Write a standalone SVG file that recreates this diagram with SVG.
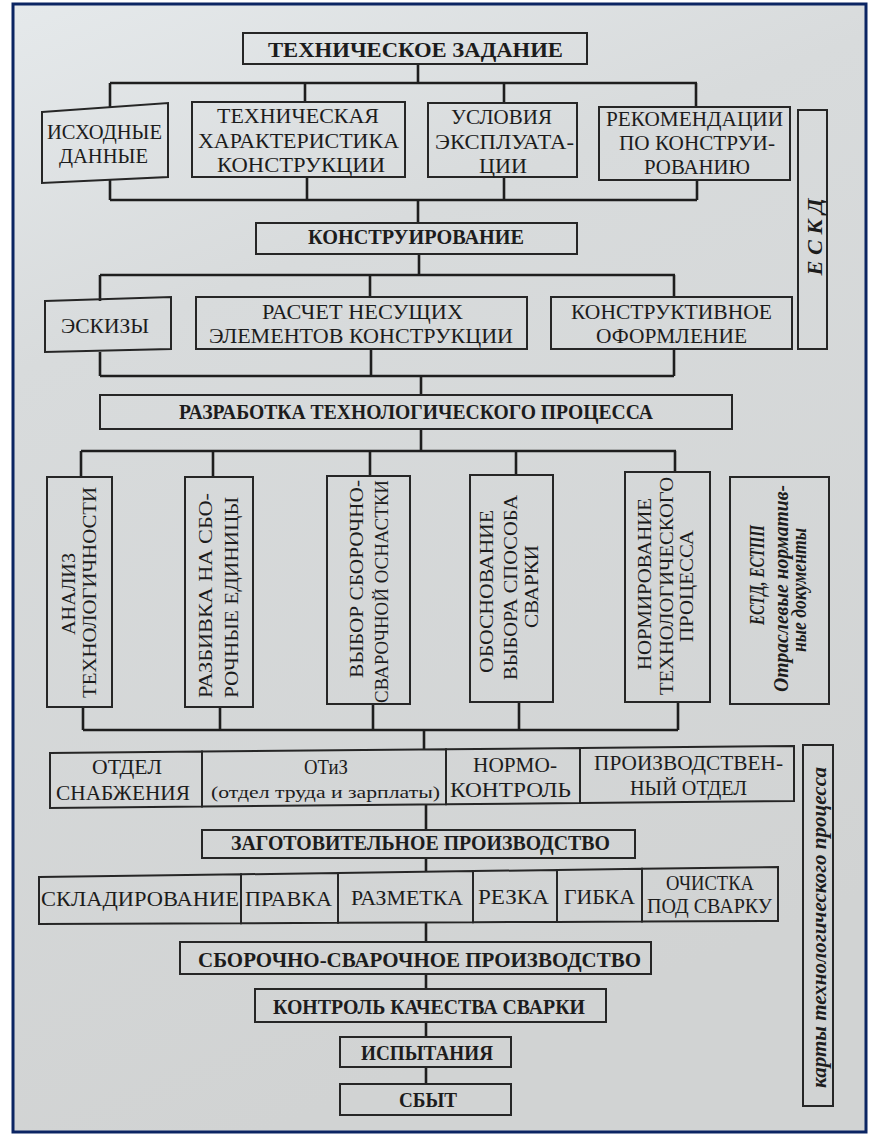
<svg xmlns="http://www.w3.org/2000/svg" width="874" height="1136" viewBox="0 0 874 1136">
<defs>
<linearGradient id="paper" x1="0" y1="0" x2="0.3" y2="1">
<stop offset="0" stop-color="#e5e9eb"/>
<stop offset="0.3" stop-color="#d8dbdc"/>
<stop offset="1" stop-color="#d1d3d3"/>
</linearGradient>
<style>
.box{fill:none;stroke:#262626;stroke-width:2}
.ln{fill:none;stroke:#1e1e1e;stroke-width:2.6}
.t{font-family:"Liberation Serif","Times New Roman",serif;font-size:21px;fill:#1c1c1c;text-anchor:middle}
.b{font-weight:bold}
.s{font-size:17px}
.v{font-size:19px}
.h{font-size:20px}
.i{font-style:italic;font-weight:bold}
</style>
</defs>
<rect x="0" y="0" width="874" height="1136" fill="#ffffff"/>
<rect x="13" y="4" width="853" height="1128" fill="url(#paper)" stroke="#0b2563" stroke-width="3"/>

<g id="connectors">
<path class="ln" d="M418 64V83M110 83H697M110 83V107M305 83V102M504 83V103M696 83V107"/>
<path class="ln" d="M110 180V200M307 177V200M504 177V200M697 180V200M110 200H697M418 200V223"/>
<path class="ln" d="M419 254V275M100 275H675M100 275V301M370 275V297M674 275V297"/>
<path class="ln" d="M100 352V376M371 349V376M674 349V376M100 376H674M421 376V395"/>
<path class="ln" d="M421 429V451M81 451H676M81 451V477M213 451V477M370 451V476M516 451V475M675 451V472"/>
<path class="ln" d="M83 707V730M220 707V730M373 704V730M519 702V730M678 702V730M83 730H678M424 730V750"/>
<path class="ln" d="M426 804V830M426 858V872M426 923V942M426 974V989M426 1022V1037M426 1067V1084"/>
</g>

<g id="n-tz"><rect class="box" x="243" y="33" width="344" height="31"/>
<text class="t b" x="415.5" y="57" textLength="295" lengthAdjust="spacingAndGlyphs">ТЕХНИЧЕСКОЕ ЗАДАНИЕ</text></g>

<g id="n-ishod"><polygon class="box" points="42,112 168,103 168,177 42,183"/>
<text class="t h" x="104.5" y="139" textLength="115" lengthAdjust="spacingAndGlyphs">ИСХОДНЫЕ</text>
<text class="t h" x="103.5" y="163" textLength="89" lengthAdjust="spacingAndGlyphs">ДАННЫЕ</text></g>

<g id="n-harakt"><rect class="box" x="192" y="102" width="213" height="75"/>
<text class="t" x="298" y="123" textLength="162" lengthAdjust="spacingAndGlyphs">ТЕХНИЧЕСКАЯ</text>
<text class="t" x="298.5" y="148" textLength="201" lengthAdjust="spacingAndGlyphs">ХАРАКТЕРИСТИКА</text>
<text class="t" x="301" y="172" textLength="168" lengthAdjust="spacingAndGlyphs">КОНСТРУКЦИИ</text></g>

<g id="n-uslov"><rect class="box" x="428" y="103" width="149" height="74"/>
<text class="t" x="501.5" y="124" textLength="101" lengthAdjust="spacingAndGlyphs">УСЛОВИЯ</text>
<text class="t" x="504.5" y="149" textLength="139" lengthAdjust="spacingAndGlyphs">ЭКСПЛУАТА-</text>
<text class="t" x="503" y="173" textLength="48" lengthAdjust="spacingAndGlyphs">ЦИИ</text></g>

<g id="n-rekom"><rect class="box" x="599" y="107" width="191" height="73"/>
<text class="t" x="694.5" y="126" textLength="177" lengthAdjust="spacingAndGlyphs">РЕКОМЕНДАЦИИ</text>
<text class="t" x="697" y="150" textLength="156" lengthAdjust="spacingAndGlyphs">ПО КОНСТРУИ-</text>
<text class="t" x="697" y="174" textLength="106" lengthAdjust="spacingAndGlyphs">РОВАНИЮ</text></g>

<g id="n-eskd"><rect class="box" x="798" y="110" width="29" height="239"/>
<text class="t i" transform="translate(822 237) rotate(-90)" font-size="21" textLength="77" lengthAdjust="spacingAndGlyphs">Е С К Д</text></g>

<g id="n-konstr"><rect class="box" x="256" y="223" width="321" height="31"/>
<text class="t b" x="416" y="244" textLength="216" lengthAdjust="spacingAndGlyphs">КОНСТРУИРОВАНИЕ</text></g>

<g id="n-eskiz"><polygon class="box" points="45,301 171,297 171,349 45,352"/>
<text class="t" x="105" y="333" textLength="88" lengthAdjust="spacingAndGlyphs">ЭСКИЗЫ</text></g>

<g id="n-raschet"><rect class="box" x="196" y="297" width="331" height="52"/>
<text class="t" x="362.5" y="319" textLength="201" lengthAdjust="spacingAndGlyphs">РАСЧЕТ НЕСУЩИХ</text>
<text class="t" x="361" y="343" textLength="304" lengthAdjust="spacingAndGlyphs">ЭЛЕМЕНТОВ КОНСТРУКЦИИ</text></g>

<g id="n-oform"><rect class="box" x="551" y="297" width="241" height="52"/>
<text class="t" x="671.5" y="319" textLength="201" lengthAdjust="spacingAndGlyphs">КОНСТРУКТИВНОЕ</text>
<text class="t" x="671.5" y="343" textLength="151" lengthAdjust="spacingAndGlyphs">ОФОРМЛЕНИЕ</text></g>

<g id="n-razrab"><rect class="box" x="100" y="395" width="632" height="34"/>
<text class="t b h" x="416" y="419" textLength="474" lengthAdjust="spacingAndGlyphs">РАЗРАБОТКА ТЕХНОЛОГИЧЕСКОГО ПРОЦЕССА</text></g>

<g id="n-analiz"><rect class="box" x="47" y="477" width="65" height="230"/>
<text class="t v" transform="translate(75 594) rotate(-90)" textLength="82" lengthAdjust="spacingAndGlyphs">АНАЛИЗ</text>
<text class="t v" transform="translate(96 592.5) rotate(-90)" textLength="211" lengthAdjust="spacingAndGlyphs">ТЕХНОЛОГИЧНОСТИ</text></g>

<g id="n-razbivka"><rect class="box" x="185" y="477" width="68" height="230"/>
<text class="t v" transform="translate(212 595.5) rotate(-90)" textLength="205" lengthAdjust="spacingAndGlyphs">РАЗБИВКА НА СБО-</text>
<text class="t v" transform="translate(238 597.5) rotate(-90)" textLength="201" lengthAdjust="spacingAndGlyphs">РОЧНЫЕ ЕДИНИЦЫ</text></g>

<g id="n-vybor"><rect class="box" x="327" y="476" width="83" height="228"/>
<text class="t v" transform="translate(363 579) rotate(-90)" textLength="198" lengthAdjust="spacingAndGlyphs">ВЫБОР СБОРОЧНО-</text>
<text class="t v" transform="translate(388 591.5) rotate(-90)" textLength="223" lengthAdjust="spacingAndGlyphs">СВАРОЧНОЙ ОСНАСТКИ</text></g>

<g id="n-obosn"><rect class="box" x="470" y="475" width="83" height="227"/>
<text class="t v" transform="translate(493 591.5) rotate(-90)" textLength="163" lengthAdjust="spacingAndGlyphs">ОБОСНОВАНИЕ</text>
<text class="t v" transform="translate(517 587.5) rotate(-90)" textLength="185" lengthAdjust="spacingAndGlyphs">ВЫБОРА СПОСОБА</text>
<text class="t v" transform="translate(538 586.5) rotate(-90)" textLength="83" lengthAdjust="spacingAndGlyphs">СВАРКИ</text></g>

<g id="n-normir"><rect class="box" x="625" y="472" width="85" height="230"/>
<text class="t v" transform="translate(651 584) rotate(-90)" textLength="172" lengthAdjust="spacingAndGlyphs">НОРМИРОВАНИЕ</text>
<text class="t v" transform="translate(673 586) rotate(-90)" textLength="218" lengthAdjust="spacingAndGlyphs">ТЕХНОЛОГИЧЕСКОГО</text>
<text class="t v" transform="translate(693 586) rotate(-90)" textLength="112" lengthAdjust="spacingAndGlyphs">ПРОЦЕССА</text></g>

<g id="n-estd"><rect class="box" x="730" y="477" width="99" height="227"/>
<text class="t i" transform="translate(764 575) rotate(-90)" font-size="19" textLength="100" lengthAdjust="spacingAndGlyphs">ЕСТД, ЕСТПП</text>
<text class="t i" transform="translate(788 588.5) rotate(-90)" font-size="19" textLength="207" lengthAdjust="spacingAndGlyphs">Отраслевые норматив-</text>
<text class="t i" transform="translate(806 590) rotate(-90)" font-size="19" textLength="124" lengthAdjust="spacingAndGlyphs">ные документы</text></g>

<g id="n-snab"><polygon class="box" points="50,753 202,751.6 202,806.6 50,808"/>
<text class="t h" x="127" y="774" textLength="70" lengthAdjust="spacingAndGlyphs">ОТДЕЛ</text>
<text class="t h" x="123" y="800" textLength="134" lengthAdjust="spacingAndGlyphs">СНАБЖЕНИЯ</text></g>

<g id="n-otiz"><polygon class="box" points="202,751.6 446,749.3 446,804.3 202,806.6"/>
<text class="t h" x="326" y="774" textLength="44" lengthAdjust="spacingAndGlyphs">ОТиЗ</text>
<text class="t s" x="325.5" y="798" textLength="229" lengthAdjust="spacingAndGlyphs">(отдел труда и зарплаты)</text></g>

<g id="n-normo"><polygon class="box" points="446,749.3 580,748 580,803 446,804.3"/>
<text class="t h" x="515" y="772" textLength="84" lengthAdjust="spacingAndGlyphs">НОРМО-</text>
<text class="t h" x="510.5" y="797" textLength="121" lengthAdjust="spacingAndGlyphs">КОНТРОЛЬ</text></g>

<g id="n-proizv"><polygon class="box" points="580,748 794,746 794,801 580,803"/>
<text class="t h" x="688.5" y="770" textLength="189" lengthAdjust="spacingAndGlyphs">ПРОИЗВОДСТВЕН-</text>
<text class="t h" x="688.5" y="795" textLength="117" lengthAdjust="spacingAndGlyphs">НЫЙ ОТДЕЛ</text></g>

<g id="n-karty"><rect class="box" x="803" y="745" width="30" height="361"/>
<text class="t i" transform="translate(826 927.5) rotate(-90)" font-size="20" textLength="321" lengthAdjust="spacingAndGlyphs">карты технологического процесса</text></g>

<g id="n-zagot"><rect class="box" x="202" y="830" width="433" height="28"/>
<text class="t b h" x="420.5" y="850" textLength="379" lengthAdjust="spacingAndGlyphs">ЗАГОТОВИТЕЛЬНОЕ ПРОИЗВОДСТВО</text></g>

<g id="n-sklad"><polygon class="box" points="39,877 241,874.3 241,923.2 39,924"/>
<text class="t h" x="140" y="906" textLength="198" lengthAdjust="spacingAndGlyphs">СКЛАДИРОВАНИЕ</text></g>
<g id="n-pravka"><polygon class="box" points="241,874.3 338,873 338,922.8 241,923.2"/>
<text class="t h" x="288.5" y="906" textLength="87" lengthAdjust="spacingAndGlyphs">ПРАВКА</text></g>
<g id="n-razmetka"><polygon class="box" points="338,873 473,871.1 473,922.2 338,922.8"/>
<text class="t h" x="407" y="905" textLength="112" lengthAdjust="spacingAndGlyphs">РАЗМЕТКА</text></g>
<g id="n-rezka"><polygon class="box" points="473,871.1 557,870 557,921.9 473,922.2"/>
<text class="t h" x="513.5" y="904" textLength="71" lengthAdjust="spacingAndGlyphs">РЕЗКА</text></g>
<g id="n-gibka"><polygon class="box" points="557,870 642,868.8 642,921.6 557,921.9"/>
<text class="t h" x="599.5" y="904" textLength="71" lengthAdjust="spacingAndGlyphs">ГИБКА</text></g>
<g id="n-ochist"><polygon class="box" points="642,868.8 778,867 778,921 642,921.6"/>
<text class="t h" x="710" y="890" textLength="88" lengthAdjust="spacingAndGlyphs">ОЧИСТКА</text>
<text class="t h" x="709.5" y="913" textLength="125" lengthAdjust="spacingAndGlyphs">ПОД СВАРКУ</text></g>

<g id="n-sborka"><rect class="box" x="180" y="942" width="471" height="32"/>
<text class="t b" x="419.5" y="967" textLength="443" lengthAdjust="spacingAndGlyphs">СБОРОЧНО-СВАРОЧНОЕ ПРОИЗВОДСТВО</text></g>

<g id="n-kontrol"><rect class="box" x="255" y="989" width="351" height="33"/>
<text class="t b" x="429" y="1014" textLength="312" lengthAdjust="spacingAndGlyphs">КОНТРОЛЬ КАЧЕСТВА СВАРКИ</text></g>

<g id="n-ispyt"><rect class="box" x="340" y="1037" width="171" height="30"/>
<text class="t b" x="427" y="1060" textLength="132" lengthAdjust="spacingAndGlyphs">ИСПЫТАНИЯ</text></g>

<g id="n-sbyt"><rect class="box" x="340" y="1084" width="171" height="31"/>
<text class="t b" x="428" y="1107" textLength="58" lengthAdjust="spacingAndGlyphs">СБЫТ</text></g>
</svg>
